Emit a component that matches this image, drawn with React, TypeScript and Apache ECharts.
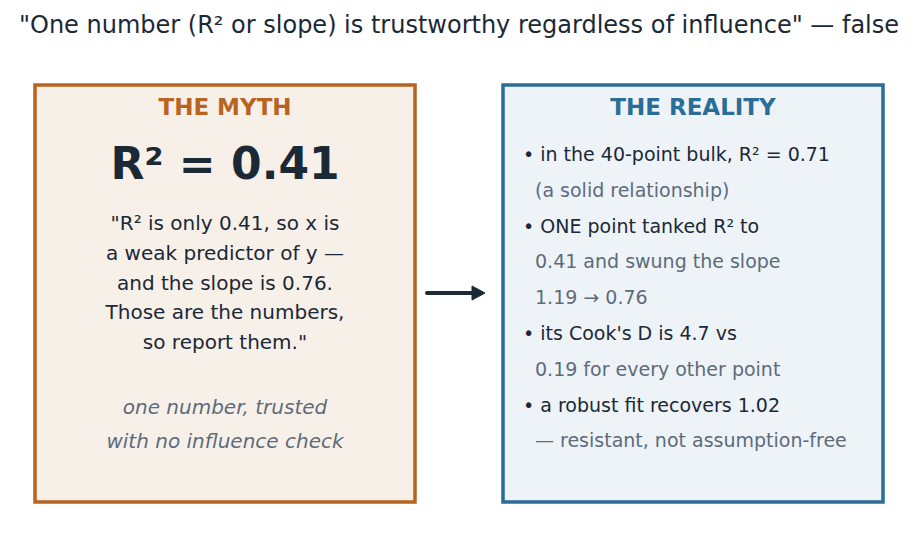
import { useEffect, useRef } from 'react';
import * as echarts from 'echarts';

const titleText = '"One number (R² or slope) is trustworthy regardless of influence" — false';

const mythHeading = 'THE MYTH';
const mythValue = 'R² = 0.41';
const mythQuote = [
  '"R² is only 0.41, so x is',
  'a weak predictor of y —',
  'and the slope is 0.76.',
  'Those are the numbers,',
  'so report them."',
];
const mythNote = ['one number, trusted', 'with no influence check'];

const realityHeading = 'THE REALITY';
// [text, isBulletLine]
const realityLines: [string, boolean][] = [
  ['• in the 40-point bulk, R² = 0.71', true],
  ['(a solid relationship)', false],
  ['• ONE point tanked R² to', true],
  ['0.41 and swung the slope', false],
  ['1.19 → 0.76', false],
  ["• its Cook's D is 4.7 vs", true],
  ['0.19 for every other point', false],
  ['• a robust fit recovers 1.02', true],
  ['— resistant, not assumption-free', false],
];

const FONT = '"DejaVu Sans", sans-serif';
const DARK = '#1b2836';
const GRAY = '#5d6b7b';
const ORANGE = '#b8631f';
const BLUE = '#2a6e98';

export default function App() {
  const chartRef = useRef<HTMLDivElement>(null);

  useEffect(() => {
    if (!chartRef.current) return;
    const chart = echarts.init(chartRef.current, null, { renderer: 'svg' });

    const graphic: any[] = [
      {
        type: 'text',
        x: 459,
        y: 25,
        style: {
          text: titleText,
          font: `24px ${FONT}`,
          fill: DARK,
          align: 'center',
          verticalAlign: 'middle',
        },
      },
      // left box
      {
        type: 'rect',
        shape: { x: 35, y: 85, width: 380, height: 417 },
        style: { fill: '#f7f0e9', stroke: ORANGE, lineWidth: 3.5 },
      },
      {
        type: 'text',
        x: 225,
        y: 107,
        style: {
          text: mythHeading,
          font: `bold 23px ${FONT}`,
          fill: ORANGE,
          align: 'center',
          verticalAlign: 'middle',
        },
      },
      {
        type: 'text',
        x: 225,
        y: 163,
        style: {
          text: mythValue,
          font: `bold 44px ${FONT}`,
          fill: DARK,
          align: 'center',
          verticalAlign: 'middle',
        },
      },
      ...mythQuote.map((t, i) => ({
        type: 'text',
        x: 225,
        y: 223 + i * 29.8,
        style: {
          text: t,
          font: `20px ${FONT}`,
          fill: DARK,
          align: 'center',
          verticalAlign: 'middle',
        },
      })),
      ...mythNote.map((t, i) => ({
        type: 'text',
        x: 225,
        y: 407 + i * 34,
        style: {
          text: t,
          font: `italic 20px ${FONT}`,
          fill: GRAY,
          align: 'center',
          verticalAlign: 'middle',
        },
      })),
      // arrow
      {
        type: 'line',
        shape: { x1: 427, y1: 293, x2: 476, y2: 293 },
        style: { stroke: DARK, lineWidth: 4, lineCap: 'round' },
      },
      {
        type: 'polygon',
        shape: { points: [[472, 286], [485, 293], [472, 300]] },
        style: { fill: DARK, stroke: DARK, lineWidth: 1, lineJoin: 'round' },
      },
      // right box
      {
        type: 'rect',
        shape: { x: 503, y: 85, width: 380, height: 417 },
        style: { fill: '#eef3f8', stroke: BLUE, lineWidth: 3.5 },
      },
      {
        type: 'text',
        x: 693,
        y: 107,
        style: {
          text: realityHeading,
          font: `bold 23px ${FONT}`,
          fill: BLUE,
          align: 'center',
          verticalAlign: 'middle',
        },
      },
      ...realityLines.map(([t, bullet], i) => ({
        type: 'text',
        x: bullet ? 523 : 535,
        y: 154 + i * 35.8,
        style: {
          text: t,
          font: `19px ${FONT}`,
          fill: bullet ? DARK : GRAY,
          align: 'left',
          verticalAlign: 'middle',
        },
      })),
    ];

    chart.setOption({
      animation: false,
      backgroundColor: '#ffffff',
      graphic,
    });

    return () => chart.dispose();
  }, []);

  return (
    <div
      ref={chartRef}
      style={{ position: 'fixed', left: 0, top: 0, width: 918, height: 557 }}
    />
  );
}
